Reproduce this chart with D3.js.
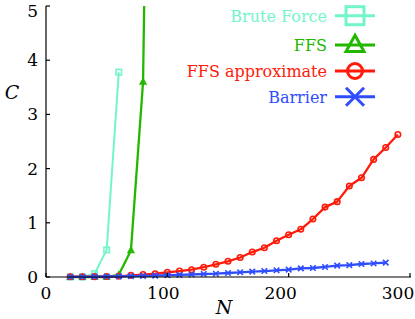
<!DOCTYPE html>
<html>
<head>
<meta charset="utf-8">
<script src="https://cdn.jsdelivr.net/npm/d3@7"></script>
<style>
  body { margin: 0; background: #fff; }
  svg text { font-family: "DejaVu Serif", "Liberation Serif", "Times New Roman", Times, serif; }
</style>
</head>
<body>
<div id="chart"></div>
<script>
// values
var bruteN = [20, 30, 40, 50, 60];
var bruteC = [0, 0, 0.06, 0.5, 3.78];

var ffsN = [20, 30, 40, 50, 60, 70, 80, 90];
var ffsC = [0, 0, 0, 0, 0.04, 0.49, 3.6, 19];

var approxN = [20, 30, 40, 50, 60, 70, 80, 90, 100, 110, 120, 130, 140, 150, 160, 170,
  180, 190, 200, 210, 220, 230, 240, 250, 260, 270, 280, 290];
var approxC = [0.005, 0.005, 0.006, 0.008, 0.013, 0.03, 0.045, 0.06, 0.087, 0.11, 0.135, 0.18,
  0.235, 0.29, 0.36, 0.46, 0.54, 0.67, 0.78, 0.88, 1.07, 1.29, 1.39, 1.68, 1.83, 2.17, 2.39, 2.63];

var barrierN = [20, 30, 40, 50, 60, 70, 80, 90, 100, 110, 120, 130, 140, 150, 160, 170,
  180, 190, 200, 210, 220, 230, 240, 250, 260, 270, 280];
var barrierC = [0.002, 0.004, 0.006, 0.009, 0.012, 0.016, 0.02, 0.025, 0.032, 0.038, 0.046, 0.055,
  0.061, 0.074, 0.087, 0.098, 0.11, 0.124, 0.135, 0.158, 0.166, 0.185, 0.21, 0.22, 0.24, 0.25, 0.265];

var xTicks = [0, 100, 200, 300];
var yTicks = [0, 1, 2, 3, 4, 5];

var width = 415, height = 319;
var margin = { left: 46, right: 410, top: 6, bottom: 277 };

var svg = d3.select("#chart").append("svg")
  .attr("width", width)
  .attr("height", height);

var x = d3.scaleLinear().domain([0, 300]).range([margin.left, margin.right]);
var y = d3.scaleLinear().domain([0, 5]).range([margin.bottom, margin.top]);

svg.append("clipPath").attr("id", "plotclip")
  .append("rect")
  .attr("x", margin.left).attr("y", margin.top)
  .attr("width", margin.right - margin.left + 10).attr("height", margin.bottom - margin.top + 10);

var series = [
  { name: "Brute Force", n: bruteN, c: bruteC, color: "#72f5cb", marker: "square", lw: 2 },
  { name: "FFS", n: ffsN, c: ffsC, color: "#22b800", marker: "triangle", lw: 2.3 },
  { name: "FFS approximate", n: approxN, c: approxC, color: "#ff1a0a", marker: "circle", lw: 2.3 },
  { name: "Barrier", n: barrierN, c: barrierC, color: "#2e4dff", marker: "cross", lw: 2.3 }
];

function drawMarker(g, type, cx, cy, s, color, lw) {
  if (type == "square") {
    g.append("rect").attr("x", cx - s / 2).attr("y", cy - s / 2)
      .attr("width", s).attr("height", s)
      .attr("fill", "none").attr("stroke", color).attr("stroke-width", lw);
  } else if (type == "triangle") {
    var h = s * 0.9;
    g.append("path")
      .attr("d", "M" + cx + "," + (cy - h * 0.6) + "L" + (cx + s / 2) + "," + (cy + h * 0.4) +
        "L" + (cx - s / 2) + "," + (cy + h * 0.4) + "Z")
      .attr("fill", "none").attr("stroke", color).attr("stroke-width", lw);
  } else if (type == "circle") {
    g.append("circle").attr("cx", cx).attr("cy", cy).attr("r", s / 2)
      .attr("fill", "none").attr("stroke", color).attr("stroke-width", lw);
  } else {
    var d = s / 2;
    g.append("path")
      .attr("d", "M" + (cx - d) + "," + (cy - d) + "L" + (cx + d) + "," + (cy + d) +
        "M" + (cx - d) + "," + (cy + d) + "L" + (cx + d) + "," + (cy - d))
      .attr("stroke", color).attr("stroke-width", lw);
  }
}

var plot = svg.append("g").attr("clip-path", "url(#plotclip)");

series.forEach(function (s) {
  var pts = s.n.map(function (n, i) { return [n, s.c[i]]; });
  var line = d3.line()
    .x(function (d) { return x(d[0]); })
    .y(function (d) { return y(d[1]); });
  plot.append("path")
    .datum(pts)
    .attr("d", line)
    .attr("fill", "none")
    .attr("stroke", s.color)
    .attr("stroke-width", s.lw)
    .attr("stroke-linejoin", "round");
  var mg = plot.append("g");
  pts.forEach(function (p) {
    if (p[1] <= 5) drawMarker(mg, s.marker, x(p[0]), y(p[1]), 5.5, s.color, 1.6);
  });
});

// axes: left and bottom only, ticks inward
svg.append("line").attr("x1", margin.left).attr("x2", margin.left)
  .attr("y1", margin.top).attr("y2", margin.bottom)
  .attr("stroke", "#000").attr("stroke-width", 1.2);
svg.append("line").attr("x1", margin.left).attr("x2", margin.right + 1)
  .attr("y1", margin.bottom).attr("y2", margin.bottom)
  .attr("stroke", "#000").attr("stroke-width", 1.2);

yTicks.forEach(function (t) {
  svg.append("line").attr("x1", margin.left).attr("x2", margin.left + 4)
    .attr("y1", y(t)).attr("y2", y(t)).attr("stroke", "#000").attr("stroke-width", 1.2);
  svg.append("text").attr("x", margin.left - 8).attr("y", Math.max(y(t) + 6, 17))
    .attr("text-anchor", "end").attr("font-size", 17).text(t);
});

xTicks.forEach(function (t) {
  svg.append("line").attr("x1", x(t)).attr("x2", x(t))
    .attr("y1", margin.bottom).attr("y2", margin.bottom - 4)
    .attr("stroke", "#000").attr("stroke-width", 1.2);
  svg.append("text").attr("x", x(t) - t * 0.04).attr("y", 299)
    .attr("text-anchor", "middle").attr("font-size", 17).text(t);
});

svg.append("text").attr("x", 224).attr("y", 314)
  .attr("text-anchor", "middle").attr("font-size", 19).attr("font-style", "italic").text("N");
svg.append("text").attr("x", 12).attr("y", 99)
  .attr("text-anchor", "middle").attr("font-size", 19).attr("font-style", "italic").text("C");

// legend
var legendY = [15.7, 45, 71, 96.7];
series.forEach(function (s, i) {
  var g = svg.append("g");
  g.append("text").attr("x", 327).attr("y", legendY[i] + 6)
    .attr("text-anchor", "end").attr("font-size", 16).attr("fill", s.color).text(s.name);
  g.append("line").attr("x1", 335).attr("x2", 375)
    .attr("y1", legendY[i]).attr("y2", legendY[i])
    .attr("stroke", s.color).attr("stroke-width", 3);
  drawMarker(g, s.marker, 355, legendY[i], s.marker == "circle" ? 15 : 18, s.color, 3);
});
</script>
</body>
</html>
